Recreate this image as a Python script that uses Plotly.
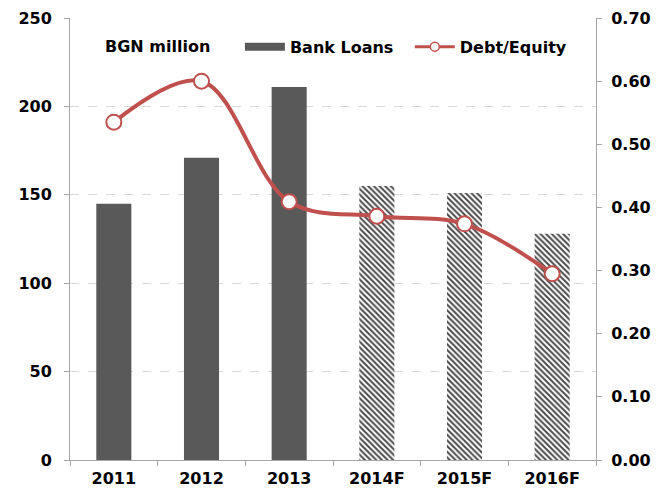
import plotly.graph_objects as go

years = ["2011", "2012", "2013", "2014F", "2015F", "2016F"]
bank_loans = [145, 171, 211, 155, 151, 128]
debt_equity = [0.535, 0.600, 0.409, 0.386, 0.374, 0.295]
n_actual = 3  # first three years are actuals, the rest forecasts

left_ticks = [0, 50, 100, 150, 200, 250]
right_ticks = [0.0, 0.1, 0.2, 0.3, 0.4, 0.5, 0.6, 0.7]

font_family = "DejaVu Sans, Verdana, sans-serif"
bar_color = "#595959"
line_color = "#C0504D"
axis_color = "#A6A6A6"
tick_font = dict(family=font_family, size=16, color="black", weight="bold")
legend_font = dict(family=font_family, size=16, color="black")

fig = go.Figure()

fig.add_trace(go.Bar(
    x=years[:n_actual], y=bank_loans[:n_actual], name="Bank Loans",
    showlegend=False,
    marker=dict(color=bar_color, line=dict(width=0)),
    width=0.4, yaxis="y",
))
fig.add_trace(go.Bar(
    x=years[n_actual:], y=bank_loans[n_actual:], name="Bank Loans (F)",
    showlegend=False,
    marker=dict(
        color="white", line=dict(width=0),
        pattern=dict(shape="\\", fgcolor="#4a4a4a", bgcolor="white",
                     size=4, solidity=0.5, fillmode="replace"),
    ),
    width=0.4, yaxis="y",
))
fig.add_trace(go.Scatter(
    x=years, y=debt_equity, name="Debt/Equity", yaxis="y2",
    mode="lines+markers", showlegend=False,
    line=dict(color=line_color, width=4, shape="spline", smoothing=1.0),
    marker=dict(size=15, color="white", line=dict(color=line_color, width=2)),
))

# legend keys: a wide solid swatch for the bars, a small-marker line for the ratio
fig.add_trace(go.Scatter(
    x=[None], y=[None], name="<b>Bank Loans</b>", mode="lines",
    line=dict(color=bar_color, width=8), yaxis="y", legend="legend",
))
fig.add_trace(go.Scatter(
    x=[None], y=[None], name="<b>Debt/Equity</b>", mode="lines+markers",
    line=dict(color=line_color, width=3), yaxis="y2", legend="legend2",
    marker=dict(size=9, color="white", line=dict(color=line_color, width=1.5)),
))

fig.add_annotation(
    text="<b>BGN million</b>", xref="paper", yref="paper",
    x=0.063, y=0.935, xanchor="left", yanchor="middle", showarrow=False,
    font=dict(family=font_family, size=16, color="black"),
)

fig.update_layout(
    width=667, height=492,
    margin=dict(l=70, r=71, t=18, b=32),
    paper_bgcolor="white", plot_bgcolor="white",
    barmode="overlay",
    font=dict(family=font_family, size=16, color="black"),
    showlegend=True,
    legend=dict(
        orientation="h", x=0.323, y=0.935, xanchor="left", yanchor="middle",
        font=legend_font, bgcolor="rgba(0,0,0,0)", itemwidth=40,
    ),
    legend2=dict(
        orientation="h", x=0.646, y=0.935, xanchor="left", yanchor="middle",
        font=legend_font, bgcolor="rgba(0,0,0,0)", itemwidth=40,
    ),
    xaxis=dict(
        categoryorder="array", categoryarray=years,
        showline=True, linecolor=axis_color, linewidth=1,
        ticks="outside", ticklen=5, tickcolor=axis_color,
        tickson="boundaries", automargin=False,
        ticklabelstandoff=4,
        tickfont=tick_font,
        showgrid=False,
    ),
    yaxis=dict(
        range=[0, 250], tickvals=left_ticks, automargin=False,
        showline=True, linecolor=axis_color, linewidth=1,
        ticks="outside", ticklen=5, tickcolor=axis_color,
        ticklabelstandoff=9,
        tickfont=tick_font,
        showgrid=True, gridcolor="#D9D9D9", griddash="dash", gridwidth=1,
        zeroline=False,
    ),
    yaxis2=dict(
        range=[0, 0.7], tickvals=right_ticks, tickformat=".2f",
        overlaying="y", side="right", automargin=False,
        showline=True, linecolor=axis_color, linewidth=1,
        ticks="outside", ticklen=5, tickcolor=axis_color,
        ticklabelstandoff=6,
        tickfont=tick_font,
        showgrid=False, zeroline=False,
    ),
)

fig.write_html("out.html")
